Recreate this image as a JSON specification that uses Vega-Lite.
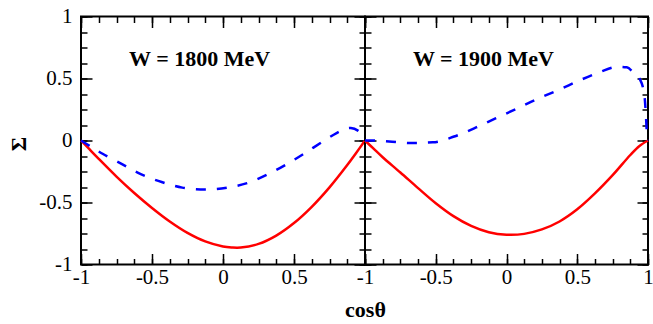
{
  "$schema": "https://vega.github.io/schema/vega-lite/v6.json",
  "background": "white",
  "autosize": {"type": "pad"},
  "padding": {"left": 6, "top": 4.5, "right": 0, "bottom": 0},
  "bounds": "flush",
  "spacing": 0,
  "config": {
    "view": {"stroke": "black", "strokeWidth": 2},
    "axis": {
      "domain": false,
      "grid": false,
      "labelFont": "Liberation Serif",
      "labelFontSize": 21,
      "labelColor": "black",
      "labelFlush": false,
      "labelOverlap": false,
      "tickColor": "black",
      "tickWidth": 1.5,
      "titleFont": "Liberation Serif",
      "titleColor": "black",
      "titleFontWeight": "bold"
    }
  },
  "datasets": {
    "curves": [
      {"panel": "1800", "series": "solid", "cos": -1, "sigma": 0},
      {"panel": "1800", "series": "solid", "cos": -0.9375, "sigma": -0.0745},
      {"panel": "1800", "series": "solid", "cos": -0.875, "sigma": -0.148},
      {"panel": "1800", "series": "solid", "cos": -0.75, "sigma": -0.291},
      {"panel": "1800", "series": "solid", "cos": -0.625, "sigma": -0.4235},
      {"panel": "1800", "series": "solid", "cos": -0.5, "sigma": -0.544},
      {"panel": "1800", "series": "solid", "cos": -0.375, "sigma": -0.653},
      {"panel": "1800", "series": "solid", "cos": -0.25, "sigma": -0.745},
      {"panel": "1800", "series": "solid", "cos": -0.125, "sigma": -0.814},
      {"panel": "1800", "series": "solid", "cos": 0, "sigma": -0.855},
      {"panel": "1800", "series": "solid", "cos": 0.0625, "sigma": -0.8627},
      {"panel": "1800", "series": "solid", "cos": 0.125, "sigma": -0.863},
      {"panel": "1800", "series": "solid", "cos": 0.25, "sigma": -0.834},
      {"panel": "1800", "series": "solid", "cos": 0.375, "sigma": -0.767},
      {"panel": "1800", "series": "solid", "cos": 0.5, "sigma": -0.666},
      {"panel": "1800", "series": "solid", "cos": 0.625, "sigma": -0.535},
      {"panel": "1800", "series": "solid", "cos": 0.75, "sigma": -0.378},
      {"panel": "1800", "series": "solid", "cos": 0.875, "sigma": -0.198},
      {"panel": "1800", "series": "solid", "cos": 0.9375, "sigma": -0.1005},
      {"panel": "1800", "series": "solid", "cos": 1, "sigma": 0},

      {"panel": "1800", "series": "dashed", "cos": -1, "sigma": 0},
      {"panel": "1800", "series": "dashed", "cos": -0.93, "sigma": -0.05},
      {"panel": "1800", "series": "dashed", "cos": -0.848, "sigma": -0.107},
      {"panel": "1800", "series": "dashed", "cos": -0.708, "sigma": -0.193},
      {"panel": "1800", "series": "dashed", "cos": -0.575, "sigma": -0.273},
      {"panel": "1800", "series": "dashed", "cos": -0.432, "sigma": -0.335},
      {"panel": "1800", "series": "dashed", "cos": -0.287, "sigma": -0.38},
      {"panel": "1800", "series": "dashed", "cos": -0.124, "sigma": -0.396},
      {"panel": "1800", "series": "dashed", "cos": 0.028, "sigma": -0.38},
      {"panel": "1800", "series": "dashed", "cos": 0.17, "sigma": -0.344},
      {"panel": "1800", "series": "dashed", "cos": 0.32, "sigma": -0.27},
      {"panel": "1800", "series": "dashed", "cos": 0.465, "sigma": -0.18},
      {"panel": "1800", "series": "dashed", "cos": 0.594, "sigma": -0.089},
      {"panel": "1800", "series": "dashed", "cos": 0.72, "sigma": 0.005},
      {"panel": "1800", "series": "dashed", "cos": 0.8, "sigma": 0.06},
      {"panel": "1800", "series": "dashed", "cos": 0.864, "sigma": 0.094},
      {"panel": "1800", "series": "dashed", "cos": 0.9, "sigma": 0.1},
      {"panel": "1800", "series": "dashed", "cos": 0.95, "sigma": 0.08},
      {"panel": "1800", "series": "dashed", "cos": 0.98, "sigma": 0.045},
      {"panel": "1800", "series": "dashed", "cos": 1, "sigma": 0},

      {"panel": "1900", "series": "solid", "cos": -1, "sigma": 0},
      {"panel": "1900", "series": "solid", "cos": -0.9375, "sigma": -0.068},
      {"panel": "1900", "series": "solid", "cos": -0.875, "sigma": -0.135},
      {"panel": "1900", "series": "solid", "cos": -0.75, "sigma": -0.258},
      {"panel": "1900", "series": "solid", "cos": -0.625, "sigma": -0.384},
      {"panel": "1900", "series": "solid", "cos": -0.5, "sigma": -0.506},
      {"panel": "1900", "series": "solid", "cos": -0.375, "sigma": -0.61},
      {"panel": "1900", "series": "solid", "cos": -0.25, "sigma": -0.689},
      {"panel": "1900", "series": "solid", "cos": -0.125, "sigma": -0.74},
      {"panel": "1900", "series": "solid", "cos": 0, "sigma": -0.76},
      {"panel": "1900", "series": "solid", "cos": 0.125, "sigma": -0.753},
      {"panel": "1900", "series": "solid", "cos": 0.25, "sigma": -0.717},
      {"panel": "1900", "series": "solid", "cos": 0.375, "sigma": -0.653},
      {"panel": "1900", "series": "solid", "cos": 0.5, "sigma": -0.555},
      {"panel": "1900", "series": "solid", "cos": 0.625, "sigma": -0.427},
      {"panel": "1900", "series": "solid", "cos": 0.75, "sigma": -0.28},
      {"panel": "1900", "series": "solid", "cos": 0.875, "sigma": -0.117},
      {"panel": "1900", "series": "solid", "cos": 0.9375, "sigma": -0.046},
      {"panel": "1900", "series": "solid", "cos": 1, "sigma": 0},

      {"panel": "1900", "series": "dashed", "cos": -1, "sigma": 0},
      {"panel": "1900", "series": "dashed", "cos": -0.95, "sigma": 0},
      {"panel": "1900", "series": "dashed", "cos": -0.83, "sigma": -0.008},
      {"panel": "1900", "series": "dashed", "cos": -0.675, "sigma": -0.02},
      {"panel": "1900", "series": "dashed", "cos": -0.52, "sigma": -0.015},
      {"panel": "1900", "series": "dashed", "cos": -0.37, "sigma": 0.032},
      {"panel": "1900", "series": "dashed", "cos": -0.215, "sigma": 0.105},
      {"panel": "1900", "series": "dashed", "cos": -0.074, "sigma": 0.18},
      {"panel": "1900", "series": "dashed", "cos": 0.08, "sigma": 0.26},
      {"panel": "1900", "series": "dashed", "cos": 0.22, "sigma": 0.336},
      {"panel": "1900", "series": "dashed", "cos": 0.373, "sigma": 0.41},
      {"panel": "1900", "series": "dashed", "cos": 0.515, "sigma": 0.484},
      {"panel": "1900", "series": "dashed", "cos": 0.656, "sigma": 0.55},
      {"panel": "1900", "series": "dashed", "cos": 0.786, "sigma": 0.595},
      {"panel": "1900", "series": "dashed", "cos": 0.85, "sigma": 0.59},
      {"panel": "1900", "series": "dashed", "cos": 0.904, "sigma": 0.54},
      {"panel": "1900", "series": "dashed", "cos": 0.94, "sigma": 0.5},
      {"panel": "1900", "series": "dashed", "cos": 0.974, "sigma": 0.37},
      {"panel": "1900", "series": "dashed", "cos": 0.985, "sigma": 0.21},
      {"panel": "1900", "series": "dashed", "cos": 0.994, "sigma": 0.025},
      {"panel": "1900", "series": "dashed", "cos": 1, "sigma": 0}
    ],
    "labels": [
      {"panel": "1800", "label": "W = 1800 MeV", "cos": -0.165, "sigma": 0.6},
      {"panel": "1900", "label": "W = 1900 MeV", "cos": -0.163, "sigma": 0.6}
    ]
  },
  "hconcat": [
    {
      "width": 284,
      "height": 248,
      "resolve": {"axis": {"x": "independent", "y": "independent"}},
      "layer": [
        {
          "data": {"name": "curves"},
          "transform": [{"filter": "datum.panel == '1800' && datum.series == 'solid'"}],
          "mark": {"type": "line", "color": "#ff0000", "strokeWidth": 2.5, "interpolate": "catmull-rom"},
          "encoding": {
            "x": {"field": "cos", "type": "quantitative", "scale": {"domain": [-1, 1], "nice": false, "zero": false},
              "axis": {"orient": "bottom", "values": [-1, -0.5, 0, 0.5, 1], "offset": -11, "tickSize": 11, "labelPadding": 2,
                "labelExpr": "datum.value == 1 ? '' : (datum.value == 0 ? '0' : (datum.value < 0 ? '-' : '') + abs(datum.value))",
                "title": "cosθ", "titleFontSize": 22, "titleX": 284, "titleY": 63, "titleAlign": "center", "titleBaseline": "alphabetic"}},
            "y": {"field": "sigma", "type": "quantitative", "scale": {"domain": [-1, 1], "nice": false, "zero": false},
              "axis": {"orient": "left", "values": [-1, -0.5, 0, 0.5, 1], "offset": -11, "tickSize": 11, "labelPadding": 9,
                "labelExpr": "datum.value == 0 ? '0' : (datum.value < 0 ? '-' : '') + abs(datum.value)",
                "title": "Σ", "titleFontSize": 22, "titleX": -74, "titleY": 127, "titleAngle": 270, "titleAlign": "center", "titleBaseline": "middle"}}
          }
        },
        {
          "data": {"name": "curves"},
          "transform": [{"filter": "datum.panel == '1800' && datum.series == 'dashed'"}],
          "mark": {"type": "line", "color": "#0000ff", "strokeWidth": 2.5, "strokeDash": [10, 11], "interpolate": "catmull-rom"},
          "encoding": {
            "x": {"field": "cos", "type": "quantitative", "axis": {"orient": "top", "values": [-1, -0.5, 0, 0.5, 1], "offset": -11, "tickSize": 11, "labels": false, "title": null}},
            "y": {"field": "sigma", "type": "quantitative", "axis": {"orient": "right", "values": [-1, -0.5, 0, 0.5, 1], "offset": -11, "tickSize": 11, "labels": false, "title": null}}
          }
        },
        {
          "data": {"name": "curves"},
          "transform": [{"filter": "datum.panel == '1800'"}],
          "mark": {"type": "point", "opacity": 0},
          "encoding": {
            "x": {"field": "cos", "type": "quantitative", "axis": {"orient": "bottom", "values": [-1, -0.875, -0.75, -0.625, -0.5, -0.375, -0.25, -0.125, 0, 0.125, 0.25, 0.375, 0.5, 0.625, 0.75, 0.875, 1], "offset": -6, "tickSize": 6, "labels": false, "title": null}},
            "y": {"field": "sigma", "type": "quantitative", "axis": {"orient": "left", "values": [-1, -0.875, -0.75, -0.625, -0.5, -0.375, -0.25, -0.125, 0, 0.125, 0.25, 0.375, 0.5, 0.625, 0.75, 0.875, 1], "offset": -6, "tickSize": 6, "labels": false, "title": null}}
          }
        },
        {
          "data": {"name": "curves"},
          "transform": [{"filter": "datum.panel == '1800'"}],
          "mark": {"type": "point", "opacity": 0},
          "encoding": {
            "x": {"field": "cos", "type": "quantitative", "axis": {"orient": "top", "values": [-1, -0.875, -0.75, -0.625, -0.5, -0.375, -0.25, -0.125, 0, 0.125, 0.25, 0.375, 0.5, 0.625, 0.75, 0.875, 1], "offset": -6, "tickSize": 6, "labels": false, "title": null}},
            "y": {"field": "sigma", "type": "quantitative", "axis": {"orient": "right", "values": [-1, -0.875, -0.75, -0.625, -0.5, -0.375, -0.25, -0.125, 0, 0.125, 0.25, 0.375, 0.5, 0.625, 0.75, 0.875, 1], "offset": -6, "tickSize": 6, "labels": false, "title": null}}
          }
        },
        {
          "data": {"name": "labels"},
          "transform": [{"filter": "datum.panel == '1800'"}],
          "mark": {"type": "text", "font": "Liberation Serif", "fontSize": 22, "fontWeight": "bold", "color": "black", "align": "center", "baseline": "alphabetic"},
          "encoding": {
            "x": {"field": "cos", "type": "quantitative", "axis": null},
            "y": {"field": "sigma", "type": "quantitative", "axis": null},
            "text": {"field": "label"}
          }
        }
      ]
    },
    {
      "width": 283,
      "height": 248,
      "resolve": {"axis": {"x": "independent", "y": "independent"}},
      "layer": [
        {
          "data": {"name": "curves"},
          "transform": [{"filter": "datum.panel == '1900' && datum.series == 'solid'"}],
          "mark": {"type": "line", "color": "#ff0000", "strokeWidth": 2.5, "interpolate": "catmull-rom"},
          "encoding": {
            "x": {"field": "cos", "type": "quantitative", "scale": {"domain": [-1, 1], "nice": false, "zero": false},
              "axis": {"orient": "bottom", "values": [-1, -0.5, 0, 0.5, 1], "offset": -11, "tickSize": 11, "labelPadding": 2,
                "labelExpr": "datum.value == 0 ? '0' : (datum.value < 0 ? '-' : '') + abs(datum.value)",
                "title": null}},
            "y": {"field": "sigma", "type": "quantitative", "scale": {"domain": [-1, 1], "nice": false, "zero": false},
              "axis": {"orient": "left", "values": [-1, -0.5, 0, 0.5, 1], "offset": -11, "tickSize": 11, "labels": false, "title": null}}
          }
        },
        {
          "data": {"name": "curves"},
          "transform": [{"filter": "datum.panel == '1900' && datum.series == 'dashed'"}],
          "mark": {"type": "line", "color": "#0000ff", "strokeWidth": 2.5, "strokeDash": [10, 11], "interpolate": "monotone"},
          "encoding": {
            "x": {"field": "cos", "type": "quantitative", "axis": {"orient": "top", "values": [-1, -0.5, 0, 0.5, 1], "offset": -11, "tickSize": 11, "labels": false, "title": null}},
            "y": {"field": "sigma", "type": "quantitative", "axis": {"orient": "right", "values": [-1, -0.5, 0, 0.5, 1], "offset": -11, "tickSize": 11, "labels": false, "title": null}}
          }
        },
        {
          "data": {"name": "curves"},
          "transform": [{"filter": "datum.panel == '1900'"}],
          "mark": {"type": "point", "opacity": 0},
          "encoding": {
            "x": {"field": "cos", "type": "quantitative", "axis": {"orient": "bottom", "values": [-1, -0.875, -0.75, -0.625, -0.5, -0.375, -0.25, -0.125, 0, 0.125, 0.25, 0.375, 0.5, 0.625, 0.75, 0.875, 1], "offset": -6, "tickSize": 6, "labels": false, "title": null}},
            "y": {"field": "sigma", "type": "quantitative", "axis": {"orient": "left", "values": [-1, -0.875, -0.75, -0.625, -0.5, -0.375, -0.25, -0.125, 0, 0.125, 0.25, 0.375, 0.5, 0.625, 0.75, 0.875, 1], "offset": -6, "tickSize": 6, "labels": false, "title": null}}
          }
        },
        {
          "data": {"name": "curves"},
          "transform": [{"filter": "datum.panel == '1900'"}],
          "mark": {"type": "point", "opacity": 0},
          "encoding": {
            "x": {"field": "cos", "type": "quantitative", "axis": {"orient": "top", "values": [-1, -0.875, -0.75, -0.625, -0.5, -0.375, -0.25, -0.125, 0, 0.125, 0.25, 0.375, 0.5, 0.625, 0.75, 0.875, 1], "offset": -6, "tickSize": 6, "labels": false, "title": null}},
            "y": {"field": "sigma", "type": "quantitative", "axis": {"orient": "right", "values": [-1, -0.875, -0.75, -0.625, -0.5, -0.375, -0.25, -0.125, 0, 0.125, 0.25, 0.375, 0.5, 0.625, 0.75, 0.875, 1], "offset": -6, "tickSize": 6, "labels": false, "title": null}}
          }
        },
        {
          "data": {"name": "labels"},
          "transform": [{"filter": "datum.panel == '1900'"}],
          "mark": {"type": "text", "font": "Liberation Serif", "fontSize": 22, "fontWeight": "bold", "color": "black", "align": "center", "baseline": "alphabetic"},
          "encoding": {
            "x": {"field": "cos", "type": "quantitative", "axis": null},
            "y": {"field": "sigma", "type": "quantitative", "axis": null},
            "text": {"field": "label"}
          }
        }
      ]
    }
  ]
}
